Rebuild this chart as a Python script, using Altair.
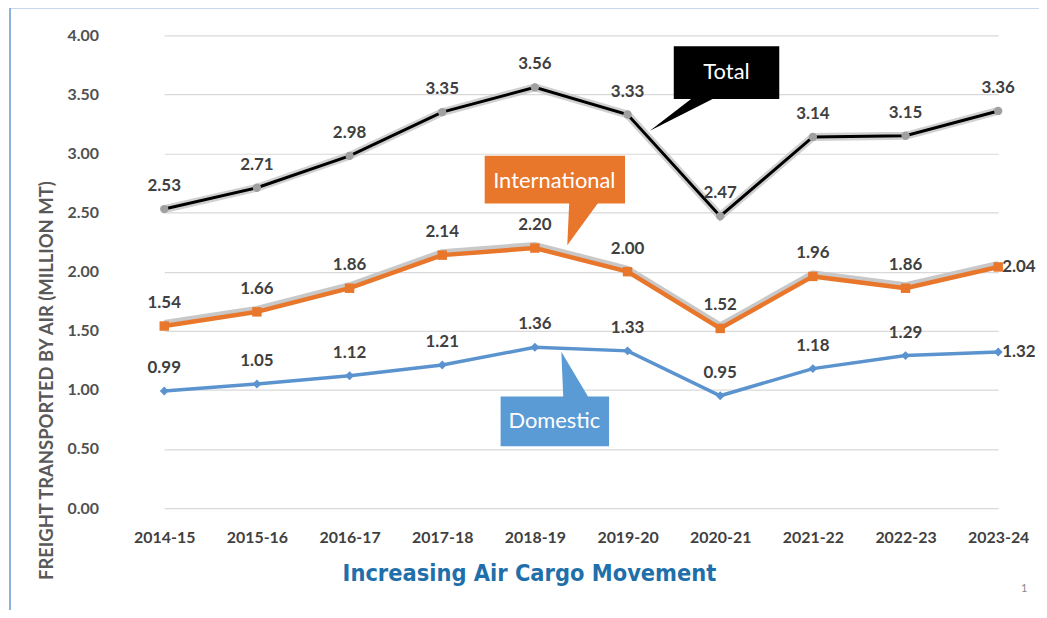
import altair as alt
import pandas as pd

# ---------------- data ----------------
years = ["2014-15", "2015-16", "2016-17", "2017-18", "2018-19",
         "2019-20", "2020-21", "2021-22", "2022-23", "2023-24"]
total = [2.53, 2.71, 2.98, 3.35, 3.56, 3.33, 2.47, 3.14, 3.15, 3.36]
international = [1.54, 1.66, 1.86, 2.14, 2.20, 2.00, 1.52, 1.96, 1.86, 2.04]
domestic = [0.99, 1.05, 1.12, 1.21, 1.36, 1.33, 0.95, 1.18, 1.29, 1.32]
y_ticks = [0, 0.5, 1.0, 1.5, 2.0, 2.5, 3.0, 3.5, 4.0]

chart_title = "Increasing Air Cargo Movement"
y_title = "FREIGHT TRANSPORTED BY AIR (MILLION MT)"
callout_total = "Total"
callout_intl = "International"
callout_dom = "Domestic"
page_no = "1"

rows = []
for name, vals in [("Total", total), ("International", international), ("Domestic", domestic)]:
    for i, (yr, v) in enumerate(zip(years, vals)):
        rows.append({"year": yr, "series": name, "value": v, "last": i == len(years) - 1})
df = pd.DataFrame(rows)

# ---------------- layout ----------------
PAD_L, PAD_T = 110, 26
ORX, ORY = 8 + PAD_L, 8 + PAD_T       # page position of plot origin
W, H = 926, 475
FONT = "Lato"
LABEL_COLOR = "#404040"
ORANGE = "#E8762B"
BLUE = "#5B93CE"

dummy = pd.DataFrame({"a": [0]})

xs = alt.X("year:N", sort=years,
           scale=alt.Scale(type="point", range=[165 - ORX, 1003 - ORX], padding=0),
           axis=alt.Axis(title=None, labelAngle=0, ticks=False, domain=False, grid=False,
                         labelFont=FONT, labelFontSize=16, labelFontWeight="bold",
                         labelColor=LABEL_COLOR, labelPadding=22))
ys = alt.Y("value:Q", scale=alt.Scale(domain=[0, 4], nice=False, zero=True),
           axis=alt.Axis(title=None, values=y_ticks, format=".2f", ticks=False, domain=False,
                         grid=True, gridColor="#D9D9D9", gridWidth=1.2,
                         labelFont=FONT, labelFontSize=16, labelFontWeight="bold",
                         labelColor="#505050", labelPadding=19))

base = alt.Chart(df).encode(x=xs, y=ys)


def series(name):
    return base.transform_filter(alt.datum.series == name)


# Total: glow + black line + grey markers
total_glow = series("Total").mark_line(color="#C4C4C4", strokeWidth=8, opacity=0.8)
total_line = series("Total").mark_line(color="#000000", strokeWidth=3)
total_pts = series("Total").mark_point(shape="circle", filled=True, color="#A0A0A0",
                                      size=70, opacity=1)

# International: grey shadow + orange line + square markers
intl_shadow = series("International").mark_line(color="#C8C8C8", strokeWidth=6, yOffset=-3)
intl_line = series("International").mark_line(color=ORANGE, strokeWidth=4.5)
intl_pts = series("International").mark_point(shape="square", filled=True, color=ORANGE,
                                             size=90, opacity=1)

# Domestic
dom_line = series("Domestic").mark_line(color=BLUE, strokeWidth=3.5)
dom_pts = series("Domestic").mark_point(shape="diamond", filled=True, color=BLUE,
                                       size=80, opacity=1)

# data labels
lbl_kw = dict(font=FONT, fontSize=17, fontWeight="bold", color=LABEL_COLOR)
labels_above = base.transform_filter(
    (alt.datum.series == "Total") | (alt.datum.last == False)
).mark_text(dy=-23, **lbl_kw).encode(text=alt.Text("value:Q", format=".2f"))
labels_right = base.transform_filter(
    (alt.datum.series != "Total") & (alt.datum.last == True)
).mark_text(dx=4, align="left", **lbl_kw).encode(text=alt.Text("value:Q", format=".2f"))


# ---------------- callouts (annotation shapes, page pixel positions) ----------------
def box(x0, y0, x1, y1, color):
    return alt.Chart(dummy).mark_rect(color=color).encode(
        x=alt.value(x0 - ORX), x2=alt.value(x1 - ORX),
        y=alt.value(y0 - ORY), y2=alt.value(y1 - ORY))


def tri(pts, color):
    p = [(x - ORX, y - ORY) for x, y in pts]
    xs_ = [a for a, _ in p]
    ys_ = [b for _, b in p]
    cx = (min(xs_) + max(xs_)) / 2
    cy = (min(ys_) + max(ys_)) / 2
    h = max(max(xs_) - min(xs_), max(ys_) - min(ys_)) / 2
    path = "M" + "L".join(f"{(a - cx) / h:.4f},{(b - cy) / h:.4f}" for a, b in p) + "Z"
    return alt.Chart(dummy).mark_point(shape=path, filled=True, color=color, opacity=1,
                                       strokeWidth=0, size=(2 * h) ** 2).encode(
        x=alt.value(cx), y=alt.value(cy))


def box_text(txt, x, y, size=22):
    return alt.Chart(pd.DataFrame({"t": [txt]})).mark_text(
        font=FONT, fontSize=size, color="#FFFFFF", align="center", baseline="middle"
    ).encode(text="t:N", x=alt.value(x - ORX), y=alt.value(y - ORY))


call_total = [tri([(697, 96), (720, 96), (653, 130)], "#000000"),
              box(677, 45, 783, 98, "#000000"),
              box_text(callout_total, 730, 71)]
call_intl = [tri([(572, 201), (602, 201), (570, 245)], ORANGE),
             box(487, 155, 628, 203, ORANGE),
             box_text(callout_intl, 557, 180)]
call_dom = [tri([(566, 399), (592, 399), (564, 352)], "#5B9BD5"),
            box(503, 397, 612, 447, "#5B9BD5"),
            box_text(callout_dom, 557, 422)]

# ---------------- titles / frame ----------------
title_mark = alt.Chart(pd.DataFrame({"t": [chart_title]})).mark_text(
    font="Liberation Sans Narrow, Arial Narrow, DejaVu Sans Condensed, sans-serif",
    fontSize=23.5, fontWeight="bold", color="#1F70AA", align="center", baseline="middle"
).encode(text="t:N", x=alt.value(532 - ORX), y=alt.value(575 - ORY))

ytitle_mark = alt.Chart(pd.DataFrame({"t": [y_title]})).mark_text(
    font=FONT, fontSize=18.5, fontWeight="bold", color="#595959", angle=270,
    align="center", baseline="middle"
).encode(text="t:N", x=alt.value(47 - ORX), y=alt.value(381 - ORY))

page_mark = alt.Chart(pd.DataFrame({"t": [page_no]})).mark_text(
    font=FONT, fontSize=11, color="#888888"
).encode(text="t:N", x=alt.value(1029 - ORX), y=alt.value(590 - ORY))

frame_left = alt.Chart(dummy).mark_rule(color="#8DB0DC", strokeWidth=2).encode(
    x=alt.value(10 - ORX), y=alt.value(6 - ORY), y2=alt.value(620 - ORY))
frame_top = alt.Chart(dummy).mark_rule(color="#8DB0DC", strokeWidth=2).encode(
    x=alt.value(10 - ORX), x2=alt.value(W), y=alt.value(6 - ORY))

chart = alt.layer(
    frame_left, frame_top,
    total_glow, total_line, total_pts,
    intl_shadow, intl_line, intl_pts,
    dom_line, dom_pts,
    labels_above, labels_right,
    *call_total, *call_intl, *call_dom,
    title_mark, ytitle_mark, page_mark,
).properties(
    width=W, height=H,
    autosize=alt.AutoSizeParams(type="none"),
    padding={"left": PAD_L, "top": PAD_T, "right": 0, "bottom": 101},
    background="white",
).configure_view(stroke=None)

chart.save("out.html", embed_options={"renderer": "svg", "actions": False})
